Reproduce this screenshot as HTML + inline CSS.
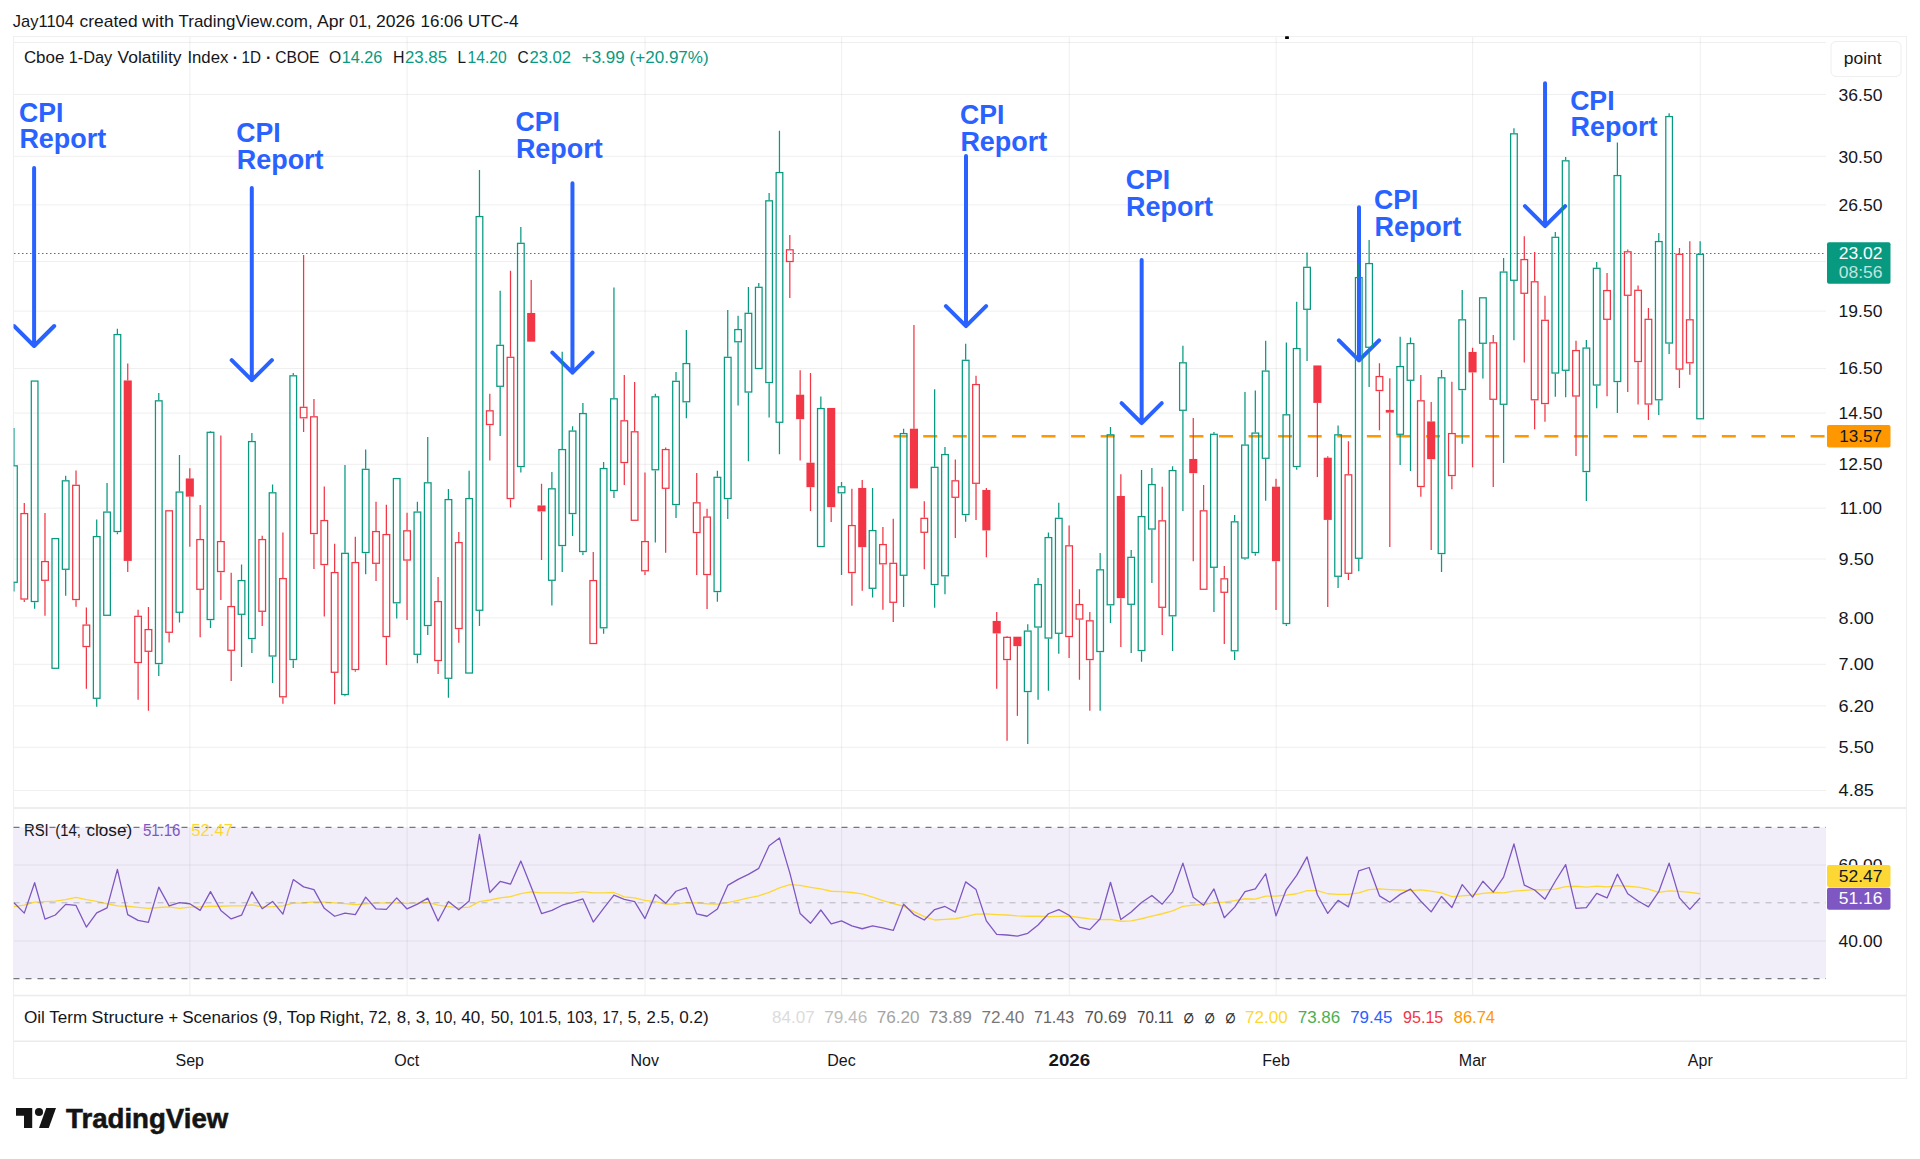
<!DOCTYPE html>
<html lang="en"><head><meta charset="utf-8"><title>Cboe 1-Day Volatility Index chart</title><style>html,body{margin:0;padding:0;background:#fff}body{width:1920px;height:1159px;overflow:hidden}</style></head><body>
<svg width="1920" height="1159" viewBox="0 0 1920 1159" font-family='"Liberation Sans", sans-serif' style="display:block">
<rect width="1920" height="1159" fill="#fff"/>
<text x="12.8" y="27" font-size="16.6" fill="#15161b" textLength="61.2" lengthAdjust="spacingAndGlyphs" >Jay1104</text>
<text x="79.5" y="27" font-size="16.6" fill="#15161b" textLength="58.1" lengthAdjust="spacingAndGlyphs" >created</text>
<text x="142" y="27" font-size="16.6" fill="#15161b" textLength="32" lengthAdjust="spacingAndGlyphs" >with</text>
<text x="178.5" y="27" font-size="16.6" fill="#15161b" textLength="134.1" lengthAdjust="spacingAndGlyphs" >TradingView.com,</text>
<text x="317" y="27" font-size="16.6" fill="#15161b" textLength="27.45" lengthAdjust="spacingAndGlyphs" >Apr</text>
<text x="349.3" y="27" font-size="16.6" fill="#15161b" textLength="22.2" lengthAdjust="spacingAndGlyphs" >01,</text>
<text x="376" y="27" font-size="16.6" fill="#15161b" textLength="39.1" lengthAdjust="spacingAndGlyphs" >2026</text>
<text x="420.55" y="27" font-size="16.6" fill="#15161b" textLength="42.45" lengthAdjust="spacingAndGlyphs" >16:06</text>
<text x="467.8" y="27" font-size="16.6" fill="#15161b" textLength="50.8" lengthAdjust="spacingAndGlyphs" >UTC-4</text>
<defs><clipPath id="cp"><rect x="13.5" y="36.5" width="1812.5" height="959"/></clipPath></defs>
<rect x="13.5" y="827.3" width="1812.5" height="151.3" fill="#7e57c2" fill-opacity="0.1"/>
<path d="M13.5 42.4H1826.0" stroke="#efefef" stroke-width="1"/>
<path d="M13.5 94.4H1826.0" stroke="#efefef" stroke-width="1"/>
<path d="M13.5 156.3H1826.0" stroke="#efefef" stroke-width="1"/>
<path d="M13.5 204.9H1826.0" stroke="#efefef" stroke-width="1"/>
<path d="M13.5 261.4H1826.0" stroke="#efefef" stroke-width="1"/>
<path d="M13.5 311.1H1826.0" stroke="#efefef" stroke-width="1"/>
<path d="M13.5 368.5H1826.0" stroke="#efefef" stroke-width="1"/>
<path d="M13.5 413.1H1826.0" stroke="#efefef" stroke-width="1"/>
<path d="M13.5 464.3H1826.0" stroke="#efefef" stroke-width="1"/>
<path d="M13.5 508.1H1826.0" stroke="#efefef" stroke-width="1"/>
<path d="M13.5 559.0H1826.0" stroke="#efefef" stroke-width="1"/>
<path d="M13.5 617.9H1826.0" stroke="#efefef" stroke-width="1"/>
<path d="M13.5 664.3H1826.0" stroke="#efefef" stroke-width="1"/>
<path d="M13.5 705.9H1826.0" stroke="#efefef" stroke-width="1"/>
<path d="M13.5 747.3H1826.0" stroke="#efefef" stroke-width="1"/>
<path d="M13.5 790.5H1826.0" stroke="#efefef" stroke-width="1"/>
<path d="M13.5 865H1826.0" stroke="#000" stroke-opacity="0.065" stroke-width="1"/>
<path d="M13.5 941H1826.0" stroke="#000" stroke-opacity="0.065" stroke-width="1"/>
<path d="M189.91 36.5V995.5" stroke="#000" stroke-opacity="0.065" stroke-width="1"/>
<path d="M407.15 36.5V995.5" stroke="#000" stroke-opacity="0.065" stroke-width="1"/>
<path d="M645.08 36.5V995.5" stroke="#000" stroke-opacity="0.065" stroke-width="1"/>
<path d="M841.63 36.5V995.5" stroke="#000" stroke-opacity="0.065" stroke-width="1"/>
<path d="M1069.22 36.5V995.5" stroke="#000" stroke-opacity="0.065" stroke-width="1"/>
<path d="M1276.11 36.5V995.5" stroke="#000" stroke-opacity="0.065" stroke-width="1"/>
<path d="M1472.66 36.5V995.5" stroke="#000" stroke-opacity="0.065" stroke-width="1"/>
<path d="M1700.25 36.5V995.5" stroke="#000" stroke-opacity="0.065" stroke-width="1"/>
<rect x="13.5" y="36.5" width="1893" height="1042" fill="none" stroke="#f0f0f0" stroke-width="1.2"/>
<path d="M13.5 808.0H1906.5" stroke="#eeeeee" stroke-width="1.8"/>
<path d="M13.5 995.5H1906.5" stroke="#ebebeb" stroke-width="1.4"/>
<path d="M13.5 1041.3H1906.5" stroke="#ebebeb" stroke-width="1.4"/>
<rect x="1285.1" y="36.3" width="3.8" height="2.6" rx="0.5" fill="#000"/>
<path d="M14 253.5H1826.0" stroke="#089981" stroke-width="1" stroke-dasharray="1.5 2.5"/>
<path d="M893.6 436.3H1826.0" stroke="#ff9800" stroke-width="2.5" stroke-dasharray="14 15.58"/>
<path d="M34.1 167.9V346M14 326L34.1 346L54.2 326" fill="none" stroke="#2962ff" stroke-width="4" stroke-linecap="round" stroke-linejoin="round" clip-path="url(#cp)"/>
<path d="M251.8 188.1V380.15M231.7 360.15L251.8 380.15L271.9 360.15" fill="none" stroke="#2962ff" stroke-width="4" stroke-linecap="round" stroke-linejoin="round" clip-path="url(#cp)"/>
<path d="M572.45 183.35V372.7M552.35 352.7L572.45 372.7L592.55 352.7" fill="none" stroke="#2962ff" stroke-width="4" stroke-linecap="round" stroke-linejoin="round" clip-path="url(#cp)"/>
<path d="M966 156.1V326.1M945.9 306.1L966 326.1L986.1 306.1" fill="none" stroke="#2962ff" stroke-width="4" stroke-linecap="round" stroke-linejoin="round" clip-path="url(#cp)"/>
<path d="M1141.67 260V423.1M1121.57 403.1L1141.67 423.1L1161.77 403.1" fill="none" stroke="#2962ff" stroke-width="4" stroke-linecap="round" stroke-linejoin="round" clip-path="url(#cp)"/>
<path d="M1359 207.3V360.4M1338.9 340.4L1359 360.4L1379.1 340.4" fill="none" stroke="#2962ff" stroke-width="4" stroke-linecap="round" stroke-linejoin="round" clip-path="url(#cp)"/>
<path d="M1545.05 83.35V226.1M1524.95 206.1L1545.05 226.1L1565.15 206.1" fill="none" stroke="#2962ff" stroke-width="4" stroke-linecap="round" stroke-linejoin="round" clip-path="url(#cp)"/>
<g clip-path="url(#cp)">
<path d="M13.95 428V465.2M13.95 582.9V591.6" stroke="#089981" stroke-width="1.25"/>
<rect x="10.62" y="465.82" width="6.65" height="116.45" fill="none" stroke="#089981" stroke-width="1.25"/>
<path d="M24.29 503V512.95M24.29 599.65V602.1" stroke="#f23645" stroke-width="1.25"/>
<rect x="20.97" y="513.58" width="6.65" height="85.45" fill="none" stroke="#f23645" stroke-width="1.25"/>
<path d="M34.64 602.15V608.85" stroke="#089981" stroke-width="1.25"/>
<rect x="31.31" y="381.07" width="6.65" height="220.45" fill="none" stroke="#089981" stroke-width="1.25"/>
<path d="M44.98 513V560.95M44.98 580.9V615.85" stroke="#f23645" stroke-width="1.25"/>
<rect x="41.66" y="561.58" width="6.65" height="18.7" fill="none" stroke="#f23645" stroke-width="1.25"/>
<rect x="52" y="538.58" width="6.65" height="129.7" fill="none" stroke="#089981" stroke-width="1.25"/>
<path d="M65.67 475.75V480.2M65.67 569.9V595.85" stroke="#089981" stroke-width="1.25"/>
<rect x="62.35" y="480.82" width="6.65" height="88.45" fill="none" stroke="#089981" stroke-width="1.25"/>
<path d="M76.02 470.5V484.7M76.02 600.15V606.85" stroke="#f23645" stroke-width="1.25"/>
<rect x="72.69" y="485.32" width="6.65" height="114.2" fill="none" stroke="#f23645" stroke-width="1.25"/>
<path d="M86.36 607.5V624.45M86.36 647.15V688.85" stroke="#f23645" stroke-width="1.25"/>
<rect x="83.04" y="625.08" width="6.65" height="21.45" fill="none" stroke="#f23645" stroke-width="1.25"/>
<path d="M96.71 519.5V535.95M96.71 698.9V706.85" stroke="#089981" stroke-width="1.25"/>
<rect x="93.38" y="536.58" width="6.65" height="161.7" fill="none" stroke="#089981" stroke-width="1.25"/>
<path d="M107.05 483V511.45" stroke="#089981" stroke-width="1.25"/>
<rect x="103.73" y="512.08" width="6.65" height="103.2" fill="none" stroke="#089981" stroke-width="1.25"/>
<path d="M117.4 328.75V333.95M117.4 532.15V534.35" stroke="#089981" stroke-width="1.25"/>
<rect x="114.07" y="334.57" width="6.65" height="196.95" fill="none" stroke="#089981" stroke-width="1.25"/>
<path d="M127.74 363.5V380.45M127.74 560.9V572.1" stroke="#f23645" stroke-width="1.25"/>
<rect x="123.69" y="380.45" width="8.1" height="180.45" fill="#f23645"/>
<path d="M138.09 609.75V615.7M138.09 663.15V699.85" stroke="#f23645" stroke-width="1.25"/>
<rect x="134.76" y="616.33" width="6.65" height="46.2" fill="none" stroke="#f23645" stroke-width="1.25"/>
<path d="M148.43 607V628.95M148.43 651.9V710.85" stroke="#f23645" stroke-width="1.25"/>
<rect x="145.11" y="629.58" width="6.65" height="21.7" fill="none" stroke="#f23645" stroke-width="1.25"/>
<path d="M158.78 393V400.2M158.78 664.15V676.1" stroke="#089981" stroke-width="1.25"/>
<rect x="155.45" y="400.82" width="6.65" height="262.7" fill="none" stroke="#089981" stroke-width="1.25"/>
<path d="M169.12 632.9V642.6" stroke="#f23645" stroke-width="1.25"/>
<rect x="165.8" y="510.82" width="6.65" height="121.45" fill="none" stroke="#f23645" stroke-width="1.25"/>
<path d="M179.47 455V491.45M179.47 612.9V622.6" stroke="#089981" stroke-width="1.25"/>
<rect x="176.14" y="492.07" width="6.65" height="120.2" fill="none" stroke="#089981" stroke-width="1.25"/>
<path d="M189.81 468.25V478.45M189.81 496.65V546.85" stroke="#f23645" stroke-width="1.25"/>
<rect x="185.76" y="478.45" width="8.1" height="18.2" fill="#f23645"/>
<path d="M200.16 505V538.95M200.16 589.9V637.35" stroke="#f23645" stroke-width="1.25"/>
<rect x="196.83" y="539.58" width="6.65" height="49.7" fill="none" stroke="#f23645" stroke-width="1.25"/>
<path d="M210.5 431V431.7M210.5 620.15V628.1" stroke="#089981" stroke-width="1.25"/>
<rect x="207.18" y="432.32" width="6.65" height="187.2" fill="none" stroke="#089981" stroke-width="1.25"/>
<path d="M220.85 435.5V540.95M220.85 572.15V600.1" stroke="#f23645" stroke-width="1.25"/>
<rect x="217.52" y="541.58" width="6.65" height="29.95" fill="none" stroke="#f23645" stroke-width="1.25"/>
<path d="M231.19 572.75V605.95M231.19 650.9V681.1" stroke="#f23645" stroke-width="1.25"/>
<rect x="227.87" y="606.58" width="6.65" height="43.7" fill="none" stroke="#f23645" stroke-width="1.25"/>
<path d="M241.54 564.5V579.95M241.54 614.9V667.1" stroke="#089981" stroke-width="1.25"/>
<rect x="238.21" y="580.58" width="6.65" height="33.7" fill="none" stroke="#089981" stroke-width="1.25"/>
<path d="M251.88 433V440.95M251.88 639.15V653.1" stroke="#089981" stroke-width="1.25"/>
<rect x="248.56" y="441.57" width="6.65" height="196.95" fill="none" stroke="#089981" stroke-width="1.25"/>
<path d="M262.22 535.75V538.95M262.22 611.9V626.1" stroke="#f23645" stroke-width="1.25"/>
<rect x="258.9" y="539.58" width="6.65" height="71.7" fill="none" stroke="#f23645" stroke-width="1.25"/>
<path d="M272.57 484.5V492.2M272.57 656.65V683.1" stroke="#089981" stroke-width="1.25"/>
<rect x="269.24" y="492.82" width="6.65" height="163.2" fill="none" stroke="#089981" stroke-width="1.25"/>
<path d="M282.91 532.5V577.95M282.91 697.4V703.85" stroke="#f23645" stroke-width="1.25"/>
<rect x="279.59" y="578.58" width="6.65" height="118.2" fill="none" stroke="#f23645" stroke-width="1.25"/>
<path d="M293.26 373V375.2M293.26 660.15V668.1" stroke="#089981" stroke-width="1.25"/>
<rect x="289.93" y="375.82" width="6.65" height="283.7" fill="none" stroke="#089981" stroke-width="1.25"/>
<path d="M303.6 255V406.7M303.6 418.4V432.1" stroke="#f23645" stroke-width="1.25"/>
<rect x="300.28" y="407.32" width="6.65" height="10.45" fill="none" stroke="#f23645" stroke-width="1.25"/>
<path d="M313.95 399V416.2M313.95 534.15V569.1" stroke="#f23645" stroke-width="1.25"/>
<rect x="310.62" y="416.82" width="6.65" height="116.7" fill="none" stroke="#f23645" stroke-width="1.25"/>
<path d="M324.29 486.5V519.95M324.29 565.15V616.6" stroke="#f23645" stroke-width="1.25"/>
<rect x="320.97" y="520.58" width="6.65" height="43.95" fill="none" stroke="#f23645" stroke-width="1.25"/>
<path d="M334.64 543.75V571.95M334.64 672.9V704.35" stroke="#f23645" stroke-width="1.25"/>
<rect x="331.31" y="572.58" width="6.65" height="99.7" fill="none" stroke="#f23645" stroke-width="1.25"/>
<path d="M344.98 465V552.7M344.98 695.15V696.35" stroke="#089981" stroke-width="1.25"/>
<rect x="341.66" y="553.33" width="6.65" height="141.2" fill="none" stroke="#089981" stroke-width="1.25"/>
<path d="M355.33 536.75V561.95M355.33 670.15V671.85" stroke="#f23645" stroke-width="1.25"/>
<rect x="352" y="562.58" width="6.65" height="106.95" fill="none" stroke="#f23645" stroke-width="1.25"/>
<path d="M365.67 449.5V468.7M365.67 553.15V574.35" stroke="#089981" stroke-width="1.25"/>
<rect x="362.35" y="469.32" width="6.65" height="83.2" fill="none" stroke="#089981" stroke-width="1.25"/>
<path d="M376.02 501.75V530.95M376.02 563.9V581.1" stroke="#f23645" stroke-width="1.25"/>
<rect x="372.69" y="531.58" width="6.65" height="31.7" fill="none" stroke="#f23645" stroke-width="1.25"/>
<path d="M386.36 504.75V533.95M386.36 637.15V665.1" stroke="#f23645" stroke-width="1.25"/>
<rect x="383.04" y="534.58" width="6.65" height="101.95" fill="none" stroke="#f23645" stroke-width="1.25"/>
<path d="M396.71 603.4V618.6" stroke="#089981" stroke-width="1.25"/>
<rect x="393.38" y="478.57" width="6.65" height="124.2" fill="none" stroke="#089981" stroke-width="1.25"/>
<path d="M407.05 512.75V530.2M407.05 560.65V620.1" stroke="#f23645" stroke-width="1.25"/>
<rect x="403.73" y="530.83" width="6.65" height="29.2" fill="none" stroke="#f23645" stroke-width="1.25"/>
<path d="M417.4 501.75V511.45M417.4 654.9V663.35" stroke="#089981" stroke-width="1.25"/>
<rect x="414.07" y="512.08" width="6.65" height="142.2" fill="none" stroke="#089981" stroke-width="1.25"/>
<path d="M427.74 437V482.2M427.74 626.15V635.1" stroke="#089981" stroke-width="1.25"/>
<rect x="424.42" y="482.82" width="6.65" height="142.7" fill="none" stroke="#089981" stroke-width="1.25"/>
<path d="M438.09 577V600.95M438.09 661.15V674.1" stroke="#f23645" stroke-width="1.25"/>
<rect x="434.76" y="601.58" width="6.65" height="58.95" fill="none" stroke="#f23645" stroke-width="1.25"/>
<path d="M448.43 489V498.95M448.43 678.9V697.85" stroke="#089981" stroke-width="1.25"/>
<rect x="445.11" y="499.57" width="6.65" height="178.7" fill="none" stroke="#089981" stroke-width="1.25"/>
<path d="M458.78 532V541.95M458.78 629.15V642.85" stroke="#f23645" stroke-width="1.25"/>
<rect x="455.45" y="542.58" width="6.65" height="85.95" fill="none" stroke="#f23645" stroke-width="1.25"/>
<path d="M469.12 470.75V497.95" stroke="#089981" stroke-width="1.25"/>
<rect x="465.8" y="498.57" width="6.65" height="174.45" fill="none" stroke="#089981" stroke-width="1.25"/>
<path d="M479.47 170V215.95M479.47 610.9V626.1" stroke="#089981" stroke-width="1.25"/>
<rect x="476.14" y="216.57" width="6.65" height="393.7" fill="none" stroke="#089981" stroke-width="1.25"/>
<path d="M489.81 393.75V410.2M489.81 425.15V460.6" stroke="#f23645" stroke-width="1.25"/>
<rect x="486.49" y="410.82" width="6.65" height="13.7" fill="none" stroke="#f23645" stroke-width="1.25"/>
<path d="M500.15 290.75V344.7M500.15 386.9V436.1" stroke="#089981" stroke-width="1.25"/>
<rect x="496.83" y="345.32" width="6.65" height="40.95" fill="none" stroke="#089981" stroke-width="1.25"/>
<path d="M510.5 270.75V356.7M510.5 499.15V507.6" stroke="#f23645" stroke-width="1.25"/>
<rect x="507.17" y="357.32" width="6.65" height="141.2" fill="none" stroke="#f23645" stroke-width="1.25"/>
<path d="M520.84 227V242.7M520.84 467.15V472.6" stroke="#089981" stroke-width="1.25"/>
<rect x="517.52" y="243.32" width="6.65" height="223.2" fill="none" stroke="#089981" stroke-width="1.25"/>
<path d="M531.19 280V312.95" stroke="#f23645" stroke-width="1.25"/>
<rect x="527.14" y="312.95" width="8.1" height="28.7" fill="#f23645"/>
<path d="M541.53 483.75V505.45M541.53 511.4V560.1" stroke="#f23645" stroke-width="1.25"/>
<rect x="537.48" y="505.45" width="8.1" height="5.95" fill="#f23645"/>
<path d="M551.88 472V488.2M551.88 580.9V605.6" stroke="#089981" stroke-width="1.25"/>
<rect x="548.55" y="488.82" width="6.65" height="91.45" fill="none" stroke="#089981" stroke-width="1.25"/>
<path d="M562.22 351.75V448.95M562.22 546.15V572.1" stroke="#089981" stroke-width="1.25"/>
<rect x="558.9" y="449.57" width="6.65" height="95.95" fill="none" stroke="#089981" stroke-width="1.25"/>
<path d="M572.57 426.25V430.45M572.57 514.15V536.1" stroke="#089981" stroke-width="1.25"/>
<rect x="569.24" y="431.07" width="6.65" height="82.45" fill="none" stroke="#089981" stroke-width="1.25"/>
<path d="M582.91 403V412.95M582.91 552.15V555.1" stroke="#089981" stroke-width="1.25"/>
<rect x="579.59" y="413.57" width="6.65" height="137.95" fill="none" stroke="#089981" stroke-width="1.25"/>
<path d="M593.26 552V579.95" stroke="#f23645" stroke-width="1.25"/>
<rect x="589.93" y="580.58" width="6.65" height="62.95" fill="none" stroke="#f23645" stroke-width="1.25"/>
<path d="M603.6 462V467.95M603.6 628.4V633.85" stroke="#089981" stroke-width="1.25"/>
<rect x="600.28" y="468.57" width="6.65" height="159.2" fill="none" stroke="#089981" stroke-width="1.25"/>
<path d="M613.95 287.5V398.2M613.95 491.15V498.1" stroke="#089981" stroke-width="1.25"/>
<rect x="610.62" y="398.82" width="6.65" height="91.7" fill="none" stroke="#089981" stroke-width="1.25"/>
<path d="M624.29 375V420.2M624.29 463.15V485.1" stroke="#f23645" stroke-width="1.25"/>
<rect x="620.97" y="420.82" width="6.65" height="41.7" fill="none" stroke="#f23645" stroke-width="1.25"/>
<path d="M634.64 382V431.2" stroke="#f23645" stroke-width="1.25"/>
<rect x="631.31" y="431.82" width="6.65" height="88.45" fill="none" stroke="#f23645" stroke-width="1.25"/>
<path d="M644.98 472.5V540.95M644.98 571.4V575.1" stroke="#f23645" stroke-width="1.25"/>
<rect x="641.66" y="541.58" width="6.65" height="29.2" fill="none" stroke="#f23645" stroke-width="1.25"/>
<path d="M655.33 393.75V396.2M655.33 470.4V542.6" stroke="#089981" stroke-width="1.25"/>
<rect x="652" y="396.82" width="6.65" height="72.95" fill="none" stroke="#089981" stroke-width="1.25"/>
<path d="M665.67 447.5V448.95M665.67 488.9V552.85" stroke="#f23645" stroke-width="1.25"/>
<rect x="662.35" y="449.57" width="6.65" height="38.7" fill="none" stroke="#f23645" stroke-width="1.25"/>
<path d="M676.02 372V380.7M676.02 505.15V518.1" stroke="#089981" stroke-width="1.25"/>
<rect x="672.69" y="381.32" width="6.65" height="123.2" fill="none" stroke="#089981" stroke-width="1.25"/>
<path d="M686.36 330V362.95M686.36 402.4V418.35" stroke="#089981" stroke-width="1.25"/>
<rect x="683.04" y="363.57" width="6.65" height="38.2" fill="none" stroke="#089981" stroke-width="1.25"/>
<path d="M696.71 473V502.2M696.71 533.15V575.1" stroke="#f23645" stroke-width="1.25"/>
<rect x="693.38" y="502.82" width="6.65" height="29.7" fill="none" stroke="#f23645" stroke-width="1.25"/>
<path d="M707.05 508.75V516.45M707.05 575.15V609.1" stroke="#f23645" stroke-width="1.25"/>
<rect x="703.73" y="517.08" width="6.65" height="57.45" fill="none" stroke="#f23645" stroke-width="1.25"/>
<path d="M717.4 470.75V476.7M717.4 592.15V601.85" stroke="#089981" stroke-width="1.25"/>
<rect x="714.07" y="477.32" width="6.65" height="114.2" fill="none" stroke="#089981" stroke-width="1.25"/>
<path d="M727.74 310V356.7M727.74 499.15V519.1" stroke="#089981" stroke-width="1.25"/>
<rect x="724.42" y="357.32" width="6.65" height="141.2" fill="none" stroke="#089981" stroke-width="1.25"/>
<path d="M738.08 315.75V328.95M738.08 342.4V405.6" stroke="#089981" stroke-width="1.25"/>
<rect x="734.76" y="329.57" width="6.65" height="12.2" fill="none" stroke="#089981" stroke-width="1.25"/>
<path d="M748.43 287V312.7M748.43 392.65V461.35" stroke="#089981" stroke-width="1.25"/>
<rect x="745.1" y="313.32" width="6.65" height="78.7" fill="none" stroke="#089981" stroke-width="1.25"/>
<path d="M758.77 283V286.7" stroke="#089981" stroke-width="1.25"/>
<rect x="755.45" y="287.32" width="6.65" height="81.2" fill="none" stroke="#089981" stroke-width="1.25"/>
<path d="M769.12 193V200.2M769.12 383.15V417.6" stroke="#089981" stroke-width="1.25"/>
<rect x="765.79" y="200.82" width="6.65" height="181.7" fill="none" stroke="#089981" stroke-width="1.25"/>
<path d="M779.46 130.75V171.95M779.46 422.9V454.35" stroke="#089981" stroke-width="1.25"/>
<rect x="776.14" y="172.57" width="6.65" height="249.7" fill="none" stroke="#089981" stroke-width="1.25"/>
<path d="M789.81 235V249.2M789.81 262.15V298.1" stroke="#f23645" stroke-width="1.25"/>
<rect x="786.48" y="249.82" width="6.65" height="11.7" fill="none" stroke="#f23645" stroke-width="1.25"/>
<path d="M800.15 370.25V394.7M800.15 419.15V460.6" stroke="#f23645" stroke-width="1.25"/>
<rect x="796.1" y="394.7" width="8.1" height="24.45" fill="#f23645"/>
<path d="M810.5 373V462.7M810.5 487.15V511.1" stroke="#f23645" stroke-width="1.25"/>
<rect x="806.45" y="462.7" width="8.1" height="24.45" fill="#f23645"/>
<path d="M820.84 396.5V407.95" stroke="#089981" stroke-width="1.25"/>
<rect x="817.52" y="408.57" width="6.65" height="137.95" fill="none" stroke="#089981" stroke-width="1.25"/>
<path d="M831.19 507.15V522.1" stroke="#f23645" stroke-width="1.25"/>
<rect x="827.14" y="407.95" width="8.1" height="99.2" fill="#f23645"/>
<path d="M841.53 482V486.2M841.53 493.4V575.1" stroke="#089981" stroke-width="1.25"/>
<rect x="838.21" y="486.82" width="6.65" height="5.95" fill="none" stroke="#089981" stroke-width="1.25"/>
<path d="M851.88 488.75V524.95M851.88 573.15V605.85" stroke="#f23645" stroke-width="1.25"/>
<rect x="848.55" y="525.58" width="6.65" height="46.95" fill="none" stroke="#f23645" stroke-width="1.25"/>
<path d="M862.22 480V487.95M862.22 547.15V590.85" stroke="#f23645" stroke-width="1.25"/>
<rect x="858.17" y="487.95" width="8.1" height="59.2" fill="#f23645"/>
<path d="M872.57 488V529.95M872.57 588.9V597.6" stroke="#089981" stroke-width="1.25"/>
<rect x="869.24" y="530.58" width="6.65" height="57.7" fill="none" stroke="#089981" stroke-width="1.25"/>
<path d="M882.91 527V543.95M882.91 564.4V609.85" stroke="#f23645" stroke-width="1.25"/>
<rect x="879.59" y="544.58" width="6.65" height="19.2" fill="none" stroke="#f23645" stroke-width="1.25"/>
<path d="M893.26 518.75V562.7M893.26 602.9V622.1" stroke="#f23645" stroke-width="1.25"/>
<rect x="889.93" y="563.33" width="6.65" height="38.95" fill="none" stroke="#f23645" stroke-width="1.25"/>
<path d="M903.6 428.75V432.95M903.6 575.9V607.1" stroke="#089981" stroke-width="1.25"/>
<rect x="900.28" y="433.57" width="6.65" height="141.7" fill="none" stroke="#089981" stroke-width="1.25"/>
<path d="M913.95 325V428.7" stroke="#f23645" stroke-width="1.25"/>
<rect x="909.9" y="428.7" width="8.1" height="59.7" fill="#f23645"/>
<path d="M924.29 501.25V517.7M924.29 532.9V569.35" stroke="#f23645" stroke-width="1.25"/>
<rect x="920.97" y="518.33" width="6.65" height="13.95" fill="none" stroke="#f23645" stroke-width="1.25"/>
<path d="M934.64 389.25V466.7M934.64 585.15V607.85" stroke="#089981" stroke-width="1.25"/>
<rect x="931.31" y="467.32" width="6.65" height="117.2" fill="none" stroke="#089981" stroke-width="1.25"/>
<path d="M944.98 447V453.95M944.98 576.4V594.35" stroke="#089981" stroke-width="1.25"/>
<rect x="941.66" y="454.57" width="6.65" height="121.2" fill="none" stroke="#089981" stroke-width="1.25"/>
<path d="M955.33 459.5V480.2M955.33 497.9V538.1" stroke="#f23645" stroke-width="1.25"/>
<rect x="952" y="480.82" width="6.65" height="16.45" fill="none" stroke="#f23645" stroke-width="1.25"/>
<path d="M965.67 343.75V359.7M965.67 515.15V521.85" stroke="#089981" stroke-width="1.25"/>
<rect x="962.35" y="360.32" width="6.65" height="154.2" fill="none" stroke="#089981" stroke-width="1.25"/>
<path d="M976.02 375.75V383.95M976.02 483.9V520.1" stroke="#f23645" stroke-width="1.25"/>
<rect x="972.69" y="384.57" width="6.65" height="98.7" fill="none" stroke="#f23645" stroke-width="1.25"/>
<path d="M986.36 488V489.95M986.36 530.4V557.35" stroke="#f23645" stroke-width="1.25"/>
<rect x="982.31" y="489.95" width="8.1" height="40.45" fill="#f23645"/>
<path d="M996.7 612V620.95M996.7 633.4V688.85" stroke="#f23645" stroke-width="1.25"/>
<rect x="992.65" y="620.95" width="8.1" height="12.45" fill="#f23645"/>
<path d="M1007.05 636V636.7M1007.05 660.15V740.85" stroke="#f23645" stroke-width="1.25"/>
<rect x="1003.72" y="637.33" width="6.65" height="22.2" fill="none" stroke="#f23645" stroke-width="1.25"/>
<path d="M1017.39 646.15V715.85" stroke="#f23645" stroke-width="1.25"/>
<rect x="1013.34" y="636.7" width="8.1" height="9.45" fill="#f23645"/>
<path d="M1027.74 624.25V630.45M1027.74 692.15V744.1" stroke="#089981" stroke-width="1.25"/>
<rect x="1024.41" y="631.08" width="6.65" height="60.45" fill="none" stroke="#089981" stroke-width="1.25"/>
<path d="M1038.08 578V583.95M1038.08 627.65V699.85" stroke="#089981" stroke-width="1.25"/>
<rect x="1034.76" y="584.58" width="6.65" height="42.45" fill="none" stroke="#089981" stroke-width="1.25"/>
<path d="M1048.43 532.5V536.95M1048.43 638.65V690.85" stroke="#089981" stroke-width="1.25"/>
<rect x="1045.1" y="537.58" width="6.65" height="100.45" fill="none" stroke="#089981" stroke-width="1.25"/>
<path d="M1058.77 502.75V517.7M1058.77 633.9V653.85" stroke="#089981" stroke-width="1.25"/>
<rect x="1055.45" y="518.33" width="6.65" height="114.95" fill="none" stroke="#089981" stroke-width="1.25"/>
<path d="M1069.12 525.5V545.2M1069.12 637.15V658.1" stroke="#f23645" stroke-width="1.25"/>
<rect x="1065.79" y="545.83" width="6.65" height="90.7" fill="none" stroke="#f23645" stroke-width="1.25"/>
<path d="M1079.46 589.25V603.95M1079.46 619.65V679.85" stroke="#f23645" stroke-width="1.25"/>
<rect x="1076.14" y="604.58" width="6.65" height="14.45" fill="none" stroke="#f23645" stroke-width="1.25"/>
<path d="M1089.81 612V620.2M1089.81 660.15V710.85" stroke="#f23645" stroke-width="1.25"/>
<rect x="1086.48" y="620.83" width="6.65" height="38.7" fill="none" stroke="#f23645" stroke-width="1.25"/>
<path d="M1100.15 553V569.2M1100.15 652.15V710.85" stroke="#089981" stroke-width="1.25"/>
<rect x="1096.83" y="569.83" width="6.65" height="81.7" fill="none" stroke="#089981" stroke-width="1.25"/>
<path d="M1110.5 427V434.2M1110.5 605.4V623.1" stroke="#089981" stroke-width="1.25"/>
<rect x="1107.17" y="434.82" width="6.65" height="169.95" fill="none" stroke="#089981" stroke-width="1.25"/>
<path d="M1120.84 474.25V495.95M1120.84 598.15V647.1" stroke="#f23645" stroke-width="1.25"/>
<rect x="1116.79" y="495.95" width="8.1" height="102.2" fill="#f23645"/>
<path d="M1131.19 550V556.7M1131.19 604.9V653.1" stroke="#089981" stroke-width="1.25"/>
<rect x="1127.86" y="557.33" width="6.65" height="46.95" fill="none" stroke="#089981" stroke-width="1.25"/>
<path d="M1141.53 470V515.95M1141.53 651.15V661.85" stroke="#089981" stroke-width="1.25"/>
<rect x="1138.21" y="516.58" width="6.65" height="133.95" fill="none" stroke="#089981" stroke-width="1.25"/>
<path d="M1151.88 468V483.95M1151.88 529.65V583.1" stroke="#089981" stroke-width="1.25"/>
<rect x="1148.55" y="484.57" width="6.65" height="44.45" fill="none" stroke="#089981" stroke-width="1.25"/>
<path d="M1162.22 486.75V520.2M1162.22 607.9V635.1" stroke="#f23645" stroke-width="1.25"/>
<rect x="1158.9" y="520.83" width="6.65" height="86.45" fill="none" stroke="#f23645" stroke-width="1.25"/>
<path d="M1172.57 466.25V469.95M1172.57 616.4V651.1" stroke="#089981" stroke-width="1.25"/>
<rect x="1169.24" y="470.57" width="6.65" height="145.2" fill="none" stroke="#089981" stroke-width="1.25"/>
<path d="M1182.91 345.75V362.2M1182.91 410.9V511.1" stroke="#089981" stroke-width="1.25"/>
<rect x="1179.59" y="362.82" width="6.65" height="47.45" fill="none" stroke="#089981" stroke-width="1.25"/>
<path d="M1193.26 418V458.95M1193.26 473.15V561.35" stroke="#f23645" stroke-width="1.25"/>
<rect x="1189.21" y="458.95" width="8.1" height="14.2" fill="#f23645"/>
<path d="M1203.6 485V510.2" stroke="#f23645" stroke-width="1.25"/>
<rect x="1200.28" y="510.82" width="6.65" height="78.45" fill="none" stroke="#f23645" stroke-width="1.25"/>
<path d="M1213.95 432V433.7M1213.95 567.9V612.1" stroke="#089981" stroke-width="1.25"/>
<rect x="1210.62" y="434.32" width="6.65" height="132.95" fill="none" stroke="#089981" stroke-width="1.25"/>
<path d="M1224.29 566V578.2M1224.29 592.9V644.1" stroke="#f23645" stroke-width="1.25"/>
<rect x="1220.96" y="578.83" width="6.65" height="13.45" fill="none" stroke="#f23645" stroke-width="1.25"/>
<path d="M1234.63 515V521.2M1234.63 651.4V660.1" stroke="#089981" stroke-width="1.25"/>
<rect x="1231.31" y="521.83" width="6.65" height="128.95" fill="none" stroke="#089981" stroke-width="1.25"/>
<path d="M1244.98 392V444.45M1244.98 558.65V559.85" stroke="#089981" stroke-width="1.25"/>
<rect x="1241.65" y="445.07" width="6.65" height="112.95" fill="none" stroke="#089981" stroke-width="1.25"/>
<path d="M1255.32 390.5V432.45M1255.32 553.15V555.85" stroke="#089981" stroke-width="1.25"/>
<rect x="1252" y="433.07" width="6.65" height="119.45" fill="none" stroke="#089981" stroke-width="1.25"/>
<path d="M1265.67 340.75V370.45M1265.67 458.9V500.85" stroke="#089981" stroke-width="1.25"/>
<rect x="1262.34" y="371.07" width="6.65" height="87.2" fill="none" stroke="#089981" stroke-width="1.25"/>
<path d="M1276.01 478.75V486.7M1276.01 561.15V610.1" stroke="#f23645" stroke-width="1.25"/>
<rect x="1271.96" y="486.7" width="8.1" height="74.45" fill="#f23645"/>
<path d="M1286.36 342.5V414.2M1286.36 624.15V626.1" stroke="#089981" stroke-width="1.25"/>
<rect x="1283.03" y="414.82" width="6.65" height="208.7" fill="none" stroke="#089981" stroke-width="1.25"/>
<path d="M1296.7 301.75V347.95M1296.7 467.15V469.85" stroke="#089981" stroke-width="1.25"/>
<rect x="1293.38" y="348.57" width="6.65" height="117.95" fill="none" stroke="#089981" stroke-width="1.25"/>
<path d="M1307.05 252.5V266.7M1307.05 309.9V361.1" stroke="#089981" stroke-width="1.25"/>
<rect x="1303.72" y="267.32" width="6.65" height="41.95" fill="none" stroke="#089981" stroke-width="1.25"/>
<path d="M1317.39 402.9V477.1" stroke="#f23645" stroke-width="1.25"/>
<rect x="1313.34" y="365.45" width="8.1" height="37.45" fill="#f23645"/>
<path d="M1327.74 456.25V457.7M1327.74 519.9V607.1" stroke="#f23645" stroke-width="1.25"/>
<rect x="1323.69" y="457.7" width="8.1" height="62.2" fill="#f23645"/>
<path d="M1338.08 425.5V434.2M1338.08 576.9V588.1" stroke="#089981" stroke-width="1.25"/>
<rect x="1334.76" y="434.82" width="6.65" height="141.45" fill="none" stroke="#089981" stroke-width="1.25"/>
<path d="M1348.43 441.25V474.2M1348.43 573.9V580.1" stroke="#f23645" stroke-width="1.25"/>
<rect x="1345.1" y="474.82" width="6.65" height="98.45" fill="none" stroke="#f23645" stroke-width="1.25"/>
<path d="M1358.77 263.75V276.95M1358.77 558.9V571.35" stroke="#089981" stroke-width="1.25"/>
<rect x="1355.45" y="277.57" width="6.65" height="280.7" fill="none" stroke="#089981" stroke-width="1.25"/>
<path d="M1369.12 240V262.95M1369.12 347.9V387.1" stroke="#089981" stroke-width="1.25"/>
<rect x="1365.79" y="263.57" width="6.65" height="83.7" fill="none" stroke="#089981" stroke-width="1.25"/>
<path d="M1379.46 363.25V375.95M1379.46 391.15V430.35" stroke="#f23645" stroke-width="1.25"/>
<rect x="1376.14" y="376.57" width="6.65" height="13.95" fill="none" stroke="#f23645" stroke-width="1.25"/>
<path d="M1389.81 378.25V409.95M1389.81 412.65V547.1" stroke="#f23645" stroke-width="1.25"/>
<rect x="1385.76" y="409.95" width="8.1" height="2.7" fill="#f23645"/>
<path d="M1400.15 336.75V365.95M1400.15 434.9V465.1" stroke="#089981" stroke-width="1.25"/>
<rect x="1396.83" y="366.57" width="6.65" height="67.7" fill="none" stroke="#089981" stroke-width="1.25"/>
<path d="M1410.5 337.5V342.95M1410.5 380.9V471.1" stroke="#089981" stroke-width="1.25"/>
<rect x="1407.17" y="343.57" width="6.65" height="36.7" fill="none" stroke="#089981" stroke-width="1.25"/>
<path d="M1420.84 375V400.2M1420.84 487.15V496.85" stroke="#f23645" stroke-width="1.25"/>
<rect x="1417.52" y="400.82" width="6.65" height="85.7" fill="none" stroke="#f23645" stroke-width="1.25"/>
<path d="M1431.19 402V421.45M1431.19 459.15V550.1" stroke="#f23645" stroke-width="1.25"/>
<rect x="1427.14" y="421.45" width="8.1" height="37.7" fill="#f23645"/>
<path d="M1441.53 370V377.2M1441.53 554.15V572.1" stroke="#089981" stroke-width="1.25"/>
<rect x="1438.21" y="377.82" width="6.65" height="175.7" fill="none" stroke="#089981" stroke-width="1.25"/>
<path d="M1451.88 381.75V432.95M1451.88 476.15V489.35" stroke="#f23645" stroke-width="1.25"/>
<rect x="1448.55" y="433.57" width="6.65" height="41.95" fill="none" stroke="#f23645" stroke-width="1.25"/>
<path d="M1462.22 290V319.2M1462.22 390.15V443.85" stroke="#089981" stroke-width="1.25"/>
<rect x="1458.89" y="319.82" width="6.65" height="69.7" fill="none" stroke="#089981" stroke-width="1.25"/>
<path d="M1472.56 347.75V351.95M1472.56 372.4V467.35" stroke="#f23645" stroke-width="1.25"/>
<rect x="1468.51" y="351.95" width="8.1" height="20.45" fill="#f23645"/>
<path d="M1482.91 343.9V378.6" stroke="#089981" stroke-width="1.25"/>
<rect x="1479.58" y="297.82" width="6.65" height="45.45" fill="none" stroke="#089981" stroke-width="1.25"/>
<path d="M1493.25 335V342.2M1493.25 399.9V487.1" stroke="#f23645" stroke-width="1.25"/>
<rect x="1489.93" y="342.82" width="6.65" height="56.45" fill="none" stroke="#f23645" stroke-width="1.25"/>
<path d="M1503.6 258V271.45M1503.6 404.9V463.1" stroke="#089981" stroke-width="1.25"/>
<rect x="1500.27" y="272.07" width="6.65" height="132.2" fill="none" stroke="#089981" stroke-width="1.25"/>
<path d="M1513.94 128.25V133.2M1513.94 280.9V340.35" stroke="#089981" stroke-width="1.25"/>
<rect x="1510.62" y="133.82" width="6.65" height="146.45" fill="none" stroke="#089981" stroke-width="1.25"/>
<path d="M1524.29 236.25V258.95M1524.29 293.9V362.6" stroke="#f23645" stroke-width="1.25"/>
<rect x="1520.96" y="259.57" width="6.65" height="33.7" fill="none" stroke="#f23645" stroke-width="1.25"/>
<path d="M1534.63 252V281.2M1534.63 400.4V429.35" stroke="#f23645" stroke-width="1.25"/>
<rect x="1531.31" y="281.82" width="6.65" height="117.95" fill="none" stroke="#f23645" stroke-width="1.25"/>
<path d="M1544.98 295.75V319.7M1544.98 404.15V421.85" stroke="#f23645" stroke-width="1.25"/>
<rect x="1541.65" y="320.32" width="6.65" height="83.2" fill="none" stroke="#f23645" stroke-width="1.25"/>
<path d="M1555.32 232V236.7M1555.32 373.65V396.85" stroke="#089981" stroke-width="1.25"/>
<rect x="1552" y="237.32" width="6.65" height="135.7" fill="none" stroke="#089981" stroke-width="1.25"/>
<path d="M1565.67 157V160.2M1565.67 370.9V397.35" stroke="#089981" stroke-width="1.25"/>
<rect x="1562.34" y="160.82" width="6.65" height="209.45" fill="none" stroke="#089981" stroke-width="1.25"/>
<path d="M1576.01 340.75V349.95M1576.01 396.65V456.1" stroke="#f23645" stroke-width="1.25"/>
<rect x="1572.69" y="350.57" width="6.65" height="45.45" fill="none" stroke="#f23645" stroke-width="1.25"/>
<path d="M1586.36 340V347.45M1586.36 472.15V501.1" stroke="#089981" stroke-width="1.25"/>
<rect x="1583.03" y="348.07" width="6.65" height="123.45" fill="none" stroke="#089981" stroke-width="1.25"/>
<path d="M1596.7 262V267.7M1596.7 385.65V408.35" stroke="#089981" stroke-width="1.25"/>
<rect x="1593.38" y="268.32" width="6.65" height="116.7" fill="none" stroke="#089981" stroke-width="1.25"/>
<path d="M1607.05 273V289.95M1607.05 319.9V396.35" stroke="#f23645" stroke-width="1.25"/>
<rect x="1603.72" y="290.57" width="6.65" height="28.7" fill="none" stroke="#f23645" stroke-width="1.25"/>
<path d="M1617.39 142.5V174.95M1617.39 382.15V413.1" stroke="#089981" stroke-width="1.25"/>
<rect x="1614.07" y="175.57" width="6.65" height="205.95" fill="none" stroke="#089981" stroke-width="1.25"/>
<path d="M1627.74 249.5V251.2M1627.74 295.9V392.1" stroke="#f23645" stroke-width="1.25"/>
<rect x="1624.41" y="251.82" width="6.65" height="43.45" fill="none" stroke="#f23645" stroke-width="1.25"/>
<path d="M1638.08 285.5V289.7M1638.08 362.15V404.6" stroke="#f23645" stroke-width="1.25"/>
<rect x="1634.76" y="290.32" width="6.65" height="71.2" fill="none" stroke="#f23645" stroke-width="1.25"/>
<path d="M1648.43 308V318.7M1648.43 404.65V420.1" stroke="#f23645" stroke-width="1.25"/>
<rect x="1645.1" y="319.32" width="6.65" height="84.7" fill="none" stroke="#f23645" stroke-width="1.25"/>
<path d="M1658.77 233V240.95M1658.77 400.4V415.1" stroke="#089981" stroke-width="1.25"/>
<rect x="1655.45" y="241.57" width="6.65" height="158.2" fill="none" stroke="#089981" stroke-width="1.25"/>
<path d="M1669.12 113.25V115.95M1669.12 343.65V354.1" stroke="#089981" stroke-width="1.25"/>
<rect x="1665.79" y="116.58" width="6.65" height="226.45" fill="none" stroke="#089981" stroke-width="1.25"/>
<path d="M1679.46 248V253.7M1679.46 369.65V388.1" stroke="#f23645" stroke-width="1.25"/>
<rect x="1676.14" y="254.32" width="6.65" height="114.7" fill="none" stroke="#f23645" stroke-width="1.25"/>
<path d="M1689.81 241.25V319.2M1689.81 363.4V374.85" stroke="#f23645" stroke-width="1.25"/>
<rect x="1686.48" y="319.82" width="6.65" height="42.95" fill="none" stroke="#f23645" stroke-width="1.25"/>
<path d="M1700.15 241.25V253.7" stroke="#089981" stroke-width="1.25"/>
<rect x="1696.83" y="254.32" width="6.65" height="164.45" fill="none" stroke="#089981" stroke-width="1.25"/>
</g>
<polyline points="13.95,906.67 24.29,905.21 34.64,902.08 44.98,901.67 55.33,901.04 65.67,899.58 76.02,897.29 86.36,899.58 96.71,901.46 107.05,903.75 117.4,905.83 127.74,906.25 138.09,907.29 148.43,908.33 158.78,907.5 169.12,906.88 179.47,908.33 189.81,907.08 200.16,906.88 210.5,906.25 220.85,906.25 231.19,905.83 241.54,905.83 251.88,904.79 262.22,906.88 272.57,906.67 282.91,905.83 293.26,903.12 303.6,902.92 313.95,901.88 324.29,902.08 334.64,902.92 344.98,903.54 355.33,904.58 365.67,903.75 376.02,903.12 386.36,902.92 396.71,902.92 407.05,903.33 417.4,903.12 427.74,902.29 438.09,905.21 448.43,906.67 458.78,907.92 469.12,907.08 479.47,901.67 489.81,900 500.15,897.92 510.5,896.67 520.84,893.54 531.19,891.88 541.53,892.92 551.88,892.92 562.22,892.92 572.57,893.12 582.91,891.67 593.26,892.92 603.6,892.92 613.95,892.5 624.29,896.88 634.64,897.92 644.98,900.42 655.33,901.67 665.67,904.17 676.02,904.17 686.36,902.71 696.71,902.92 707.05,903.75 717.4,904.17 727.74,902.71 738.08,900.42 748.43,897.92 758.77,895.83 769.12,892.29 779.46,887.92 789.81,884.58 800.15,885.42 810.5,887.29 820.84,888.96 831.19,891.25 841.53,891.67 851.88,892.5 862.22,893.96 872.57,897.08 882.91,900.62 893.26,903.54 903.6,906.25 913.95,911.67 924.29,916.67 934.64,920 944.98,919.38 955.33,918.75 965.67,916.67 976.02,914.17 986.36,913.96 996.7,914.58 1007.05,915 1017.39,915.83 1027.74,916.25 1038.08,916.04 1048.43,916.67 1058.77,916.46 1069.12,916.04 1079.46,917.5 1089.81,918.96 1100.15,919.58 1110.5,919.38 1120.84,921.25 1131.19,920.83 1141.53,918.75 1151.88,916.04 1162.22,913.75 1172.57,910.83 1182.91,906.46 1193.26,905.21 1203.6,904.58 1213.95,902.71 1224.29,902.08 1234.63,900.62 1244.98,898.75 1255.32,899.17 1265.67,896.04 1276.01,896.04 1286.36,895.21 1296.7,893.75 1307.05,890.62 1317.39,890.62 1327.74,893.75 1338.08,894.38 1348.43,894.38 1358.77,892.92 1369.12,889.58 1379.46,888.96 1389.81,889.58 1400.15,890 1410.5,890.62 1420.84,889.79 1431.19,891.04 1441.53,892.92 1451.88,896.67 1462.22,895.83 1472.56,895 1482.91,893.33 1493.25,892.5 1503.6,892.92 1513.94,891.04 1524.29,890.42 1534.63,889.58 1544.98,889.79 1555.32,889.17 1565.67,886.67 1576.01,886.25 1586.36,887.08 1596.7,886.04 1607.05,886.88 1617.39,885.62 1627.74,886.25 1638.08,887.08 1648.43,889.17 1658.77,892.29 1669.12,890.83 1679.46,891.46 1689.81,892.29 1700.15,893.75" fill="none" stroke="#fdd835" stroke-width="1.3" stroke-linejoin="round" clip-path="url(#cp)"/>
<polyline points="13.95,902.71 24.29,913.12 34.64,882.71 44.98,919.17 55.33,915 65.67,904.38 76.02,905.42 86.36,927.08 96.71,912.92 107.05,907.92 117.4,869.38 127.74,914.58 138.09,920.42 148.43,922.29 158.78,887.08 169.12,905.83 179.47,902.71 189.81,903.75 200.16,910.42 210.5,891.67 220.85,910.42 231.19,918.96 241.54,915.21 251.88,891.67 262.22,908.75 272.57,901.46 282.91,914.17 293.26,879.58 303.6,886.88 313.95,889.58 324.29,908.33 334.64,916.25 344.98,913.12 355.33,914.58 365.67,897.08 376.02,908.96 386.36,909.38 396.71,897.92 407.05,908.96 417.4,904.17 427.74,898.12 438.09,921.04 448.43,901.46 458.78,909.79 469.12,901.04 479.47,834.38 489.81,892.5 500.15,881.46 510.5,884.17 520.84,861.04 531.19,887.08 541.53,913.54 551.88,910.42 562.22,905.21 572.57,902.08 582.91,898.96 593.26,922.08 603.6,908.33 613.95,895.21 624.29,899.38 634.64,901.67 644.98,918.54 655.33,894.58 665.67,903.33 676.02,891.25 686.36,887.71 696.71,913.96 707.05,916.25 717.4,908.96 727.74,885.42 738.08,879.38 748.43,874.38 758.77,868.33 769.12,845.83 779.46,837.92 789.81,872.92 800.15,913.54 810.5,923.33 820.84,910 831.19,923.96 841.53,920.83 851.88,925.83 862.22,928.75 872.57,925.83 882.91,927.92 893.26,930.42 903.6,904.17 913.95,914.58 924.29,920 934.64,909.58 944.98,906.46 955.33,912.08 965.67,881.88 976.02,889.58 986.36,920.83 996.7,934.38 1007.05,935 1017.39,936.04 1027.74,933.33 1038.08,925 1048.43,913.75 1058.77,909.58 1069.12,915.21 1079.46,927.08 1089.81,929.58 1100.15,918.75 1110.5,882.29 1120.84,919.58 1131.19,912.08 1141.53,902.5 1151.88,895.42 1162.22,904.17 1172.57,891.67 1182.91,863.12 1193.26,897.29 1203.6,905.21 1213.95,888.96 1224.29,917.71 1234.63,907.08 1244.98,891.67 1255.32,888.96 1265.67,873.75 1276.01,915.83 1286.36,889.58 1296.7,875.42 1307.05,856.88 1317.39,894.79 1327.74,913.33 1338.08,900.42 1348.43,906.88 1358.77,870.83 1369.12,867.5 1379.46,895.83 1389.81,902.29 1400.15,894.38 1410.5,889.17 1420.84,901.25 1431.19,911.88 1441.53,896.46 1451.88,907.5 1462.22,884.58 1472.56,897.08 1482.91,881.25 1493.25,892.08 1503.6,877.08 1513.94,843.96 1524.29,885.21 1534.63,890 1544.98,899.17 1555.32,881.25 1565.67,864.58 1576.01,908.33 1586.36,907.71 1596.7,893.33 1607.05,897.92 1617.39,874.17 1627.74,893.75 1638.08,901.04 1648.43,906.88 1658.77,891.67 1669.12,863.12 1679.46,897.92 1689.81,909.38 1700.15,897.92" fill="none" stroke="#7e57c2" stroke-width="1.3" stroke-linejoin="round" clip-path="url(#cp)"/>
<path d="M13.5 902.8H1826.0" stroke="#787b86" stroke-opacity="0.5" stroke-width="1" stroke-dasharray="6 6"/>
<path d="M13.5 827.3H1826.0M13.5 978.6H1826.0" stroke="#75777f" stroke-width="1.2" stroke-dasharray="6 6"/>
<text x="19" y="122" font-size="26.8" fill="#2962ff" textLength="44.4" lengthAdjust="spacingAndGlyphs" font-weight="bold" >CPI</text>
<text x="19.4" y="148" font-size="26.8" fill="#2962ff" textLength="86.9" lengthAdjust="spacingAndGlyphs" font-weight="bold" >Report</text>
<text x="236.3" y="142" font-size="26.8" fill="#2962ff" textLength="44.4" lengthAdjust="spacingAndGlyphs" font-weight="bold" >CPI</text>
<text x="236.7" y="169" font-size="26.8" fill="#2962ff" textLength="86.9" lengthAdjust="spacingAndGlyphs" font-weight="bold" >Report</text>
<text x="515.5" y="131" font-size="26.8" fill="#2962ff" textLength="44.4" lengthAdjust="spacingAndGlyphs" font-weight="bold" >CPI</text>
<text x="515.9" y="158" font-size="26.8" fill="#2962ff" textLength="86.9" lengthAdjust="spacingAndGlyphs" font-weight="bold" >Report</text>
<text x="960" y="124" font-size="26.8" fill="#2962ff" textLength="44.4" lengthAdjust="spacingAndGlyphs" font-weight="bold" >CPI</text>
<text x="960.4" y="151" font-size="26.8" fill="#2962ff" textLength="86.9" lengthAdjust="spacingAndGlyphs" font-weight="bold" >Report</text>
<text x="1125.67" y="189" font-size="26.8" fill="#2962ff" textLength="44.4" lengthAdjust="spacingAndGlyphs" font-weight="bold" >CPI</text>
<text x="1126.07" y="216" font-size="26.8" fill="#2962ff" textLength="86.9" lengthAdjust="spacingAndGlyphs" font-weight="bold" >Report</text>
<text x="1374.03" y="209" font-size="26.8" fill="#2962ff" textLength="44.4" lengthAdjust="spacingAndGlyphs" font-weight="bold" >CPI</text>
<text x="1374.43" y="236" font-size="26.8" fill="#2962ff" textLength="86.9" lengthAdjust="spacingAndGlyphs" font-weight="bold" >Report</text>
<text x="1570.15" y="110" font-size="26.8" fill="#2962ff" textLength="44.4" lengthAdjust="spacingAndGlyphs" font-weight="bold" >CPI</text>
<text x="1570.55" y="136" font-size="26.8" fill="#2962ff" textLength="86.9" lengthAdjust="spacingAndGlyphs" font-weight="bold" >Report</text>
<text x="23.9" y="62.9" font-size="16" fill="#15161b" textLength="40.4" lengthAdjust="spacingAndGlyphs" >Cboe</text>
<text x="68.7" y="62.9" font-size="16" fill="#15161b" textLength="43.6" lengthAdjust="spacingAndGlyphs" >1-Day</text>
<text x="117.6" y="62.9" font-size="16" fill="#15161b" textLength="63.9" lengthAdjust="spacingAndGlyphs" >Volatility</text>
<text x="187.4" y="62.9" font-size="16" fill="#15161b" textLength="41" lengthAdjust="spacingAndGlyphs" >Index</text>
<text x="241.6" y="62.9" font-size="16" fill="#15161b" textLength="19.5" lengthAdjust="spacingAndGlyphs" >1D</text>
<text x="275.3" y="62.9" font-size="16" fill="#15161b" textLength="44.15" lengthAdjust="spacingAndGlyphs" >CBOE</text>
<text x="235.45" y="62.9" font-size="16" fill="#15161b" font-weight="bold" text-anchor="middle" >·</text>
<text x="268.75" y="62.9" font-size="16" fill="#15161b" font-weight="bold" text-anchor="middle" >·</text>
<text x="329" y="62.9" font-size="16" fill="#15161b" textLength="12.2" lengthAdjust="spacingAndGlyphs" >O</text>
<text x="341.7" y="62.9" font-size="16" fill="#089981" textLength="40.6" lengthAdjust="spacingAndGlyphs" >14.26</text>
<text x="393" y="62.9" font-size="16" fill="#15161b" textLength="11.5" lengthAdjust="spacingAndGlyphs" >H</text>
<text x="405" y="62.9" font-size="16" fill="#089981" textLength="42" lengthAdjust="spacingAndGlyphs" >23.85</text>
<text x="457.5" y="62.9" font-size="16" fill="#15161b" textLength="8.5" lengthAdjust="spacingAndGlyphs" >L</text>
<text x="467.5" y="62.9" font-size="16" fill="#089981" textLength="39.2" lengthAdjust="spacingAndGlyphs" >14.20</text>
<text x="517.5" y="62.9" font-size="16" fill="#15161b" textLength="11.2" lengthAdjust="spacingAndGlyphs" >C</text>
<text x="529.4" y="62.9" font-size="16" fill="#089981" textLength="41.6" lengthAdjust="spacingAndGlyphs" >23.02</text>
<text x="581.7" y="62.9" font-size="16" fill="#089981" textLength="127" lengthAdjust="spacingAndGlyphs" >+3.99 (+20.97%)</text>
<rect x="1831" y="41.5" width="70" height="35" rx="5" fill="#fff" stroke="#eeeeee" stroke-width="1"/>
<text x="1843.75" y="63.9" font-size="16.5" fill="#15161b" textLength="37.8" lengthAdjust="spacingAndGlyphs" >point</text>
<text x="1838.6" y="100.9" font-size="16.5" fill="#15161b" textLength="43.8" lengthAdjust="spacingAndGlyphs" >36.50</text>
<text x="1838.6" y="162.9" font-size="16.5" fill="#15161b" textLength="43.8" lengthAdjust="spacingAndGlyphs" >30.50</text>
<text x="1838.6" y="210.9" font-size="16.5" fill="#15161b" textLength="43.8" lengthAdjust="spacingAndGlyphs" >26.50</text>
<text x="1838.6" y="316.9" font-size="16.5" fill="#15161b" textLength="43.8" lengthAdjust="spacingAndGlyphs" >19.50</text>
<text x="1838.6" y="374.4" font-size="16.5" fill="#15161b" textLength="43.8" lengthAdjust="spacingAndGlyphs" >16.50</text>
<text x="1838.6" y="418.9" font-size="16.5" fill="#15161b" textLength="43.8" lengthAdjust="spacingAndGlyphs" >14.50</text>
<text x="1838.6" y="470.4" font-size="16.5" fill="#15161b" textLength="43.8" lengthAdjust="spacingAndGlyphs" >12.50</text>
<text x="1839.5" y="513.9" font-size="16.5" fill="#15161b" textLength="42.5" lengthAdjust="spacingAndGlyphs" >11.00</text>
<text x="1838.6" y="564.9" font-size="16.5" fill="#15161b" textLength="35.2" lengthAdjust="spacingAndGlyphs" >9.50</text>
<text x="1838.6" y="623.9" font-size="16.5" fill="#15161b" textLength="35.2" lengthAdjust="spacingAndGlyphs" >8.00</text>
<text x="1838.6" y="670.4" font-size="16.5" fill="#15161b" textLength="35.2" lengthAdjust="spacingAndGlyphs" >7.00</text>
<text x="1838.6" y="711.9" font-size="16.5" fill="#15161b" textLength="35.2" lengthAdjust="spacingAndGlyphs" >6.20</text>
<text x="1838.6" y="753.4" font-size="16.5" fill="#15161b" textLength="35.2" lengthAdjust="spacingAndGlyphs" >5.50</text>
<text x="1838.6" y="796.4" font-size="16.5" fill="#15161b" textLength="35.2" lengthAdjust="spacingAndGlyphs" >4.85</text>
<text x="1838.6" y="870.9" font-size="16.5" fill="#15161b" textLength="43.8" lengthAdjust="spacingAndGlyphs" >60.00</text>
<text x="1838.6" y="946.9" font-size="16.5" fill="#15161b" textLength="43.8" lengthAdjust="spacingAndGlyphs" >40.00</text>
<rect x="1827" y="242.2" width="63.5" height="41.6" rx="2" fill="#089981"/>
<text x="1838.7" y="258.5" font-size="16.5" fill="#fff" textLength="43.8" lengthAdjust="spacingAndGlyphs" >23.02</text>
<text x="1838.7" y="277.9" font-size="16.5" fill="#fff" textLength="43.8" lengthAdjust="spacingAndGlyphs" fill-opacity="0.75">08:56</text>
<rect x="1827" y="425" width="63.5" height="22.5" rx="2" fill="#ff9800"/>
<text x="1839.2" y="441.8" font-size="16.5" fill="#131722" textLength="42.8" lengthAdjust="spacingAndGlyphs" >13.57</text>
<rect x="1827" y="865" width="63.5" height="22" rx="2" fill="#fdd835"/>
<text x="1838.8" y="881.6" font-size="16.5" fill="#131722" textLength="43.7" lengthAdjust="spacingAndGlyphs" >52.47</text>
<rect x="1827" y="887.7" width="63.5" height="22.1" rx="2" fill="#7e57c2"/>
<text x="1838.8" y="904.4" font-size="16.5" fill="#fff" textLength="43.7" lengthAdjust="spacingAndGlyphs" >51.16</text>
<text x="23.9" y="835.8" font-size="16" fill="#15161b" textLength="24.8" lengthAdjust="spacingAndGlyphs" >RSI</text>
<text x="55.2" y="835.8" font-size="16" fill="#15161b" textLength="25.75" lengthAdjust="spacingAndGlyphs" >(14,</text>
<text x="86.4" y="835.8" font-size="16" fill="#15161b" textLength="45.8" lengthAdjust="spacingAndGlyphs" >close)</text>
<text x="142.9" y="835.8" font-size="16" fill="#7e57c2" textLength="37.5" lengthAdjust="spacingAndGlyphs" >51.16</text>
<text x="191.25" y="835.8" font-size="16" fill="#fdd835" textLength="41.8" lengthAdjust="spacingAndGlyphs" >52.47</text>
<text x="23.9" y="1023.3" font-size="16" fill="#15161b" textLength="21" lengthAdjust="spacingAndGlyphs" >Oil</text>
<text x="49.3" y="1023.3" font-size="16" fill="#15161b" textLength="37.9" lengthAdjust="spacingAndGlyphs" >Term</text>
<text x="91.6" y="1023.3" font-size="16" fill="#15161b" textLength="72.2" lengthAdjust="spacingAndGlyphs" >Structure</text>
<text x="168.5" y="1023.3" font-size="16" fill="#15161b" textLength="9.7" lengthAdjust="spacingAndGlyphs" >+</text>
<text x="182.2" y="1023.3" font-size="16" fill="#15161b" textLength="75.8" lengthAdjust="spacingAndGlyphs" >Scenarios</text>
<text x="262.4" y="1023.3" font-size="16" fill="#15161b" textLength="20" lengthAdjust="spacingAndGlyphs" >(9,</text>
<text x="286.8" y="1023.3" font-size="16" fill="#15161b" textLength="28.5" lengthAdjust="spacingAndGlyphs" >Top</text>
<text x="319.5" y="1023.3" font-size="16" fill="#15161b" textLength="44.7" lengthAdjust="spacingAndGlyphs" >Right,</text>
<text x="368.5" y="1023.3" font-size="16" fill="#15161b" textLength="22.9" lengthAdjust="spacingAndGlyphs" >72,</text>
<text x="396.8" y="1023.3" font-size="16" fill="#15161b" textLength="14.1" lengthAdjust="spacingAndGlyphs" >8,</text>
<text x="415.8" y="1023.3" font-size="16" fill="#15161b" textLength="14.3" lengthAdjust="spacingAndGlyphs" >3,</text>
<text x="434.5" y="1023.3" font-size="16" fill="#15161b" textLength="22.2" lengthAdjust="spacingAndGlyphs" >10,</text>
<text x="461.2" y="1023.3" font-size="16" fill="#15161b" textLength="23.7" lengthAdjust="spacingAndGlyphs" >40,</text>
<text x="490.8" y="1023.3" font-size="16" fill="#15161b" textLength="23.2" lengthAdjust="spacingAndGlyphs" >50,</text>
<text x="518.9" y="1023.3" font-size="16" fill="#15161b" textLength="42.6" lengthAdjust="spacingAndGlyphs" >101.5,</text>
<text x="566.4" y="1023.3" font-size="16" fill="#15161b" textLength="31" lengthAdjust="spacingAndGlyphs" >103,</text>
<text x="602.6" y="1023.3" font-size="16" fill="#15161b" textLength="20.2" lengthAdjust="spacingAndGlyphs" >17,</text>
<text x="627.8" y="1023.3" font-size="16" fill="#15161b" textLength="13.3" lengthAdjust="spacingAndGlyphs" >5,</text>
<text x="646.6" y="1023.3" font-size="16" fill="#15161b" textLength="27.85" lengthAdjust="spacingAndGlyphs" >2.5,</text>
<text x="679.3" y="1023.3" font-size="16" fill="#15161b" textLength="29.5" lengthAdjust="spacingAndGlyphs" >0.2)</text>
<text x="772" y="1023.3" font-size="16" fill="#dcdcdc" textLength="42.6" lengthAdjust="spacingAndGlyphs" >84.07</text>
<text x="824.2" y="1023.3" font-size="16" fill="#bdbdbd" textLength="43.1" lengthAdjust="spacingAndGlyphs" >79.46</text>
<text x="876.7" y="1023.3" font-size="16" fill="#a3a3a3" textLength="42.7" lengthAdjust="spacingAndGlyphs" >76.20</text>
<text x="928.75" y="1023.3" font-size="16" fill="#8c8c8c" textLength="43.15" lengthAdjust="spacingAndGlyphs" >73.89</text>
<text x="981.5" y="1023.3" font-size="16" fill="#787878" textLength="42.9" lengthAdjust="spacingAndGlyphs" >72.40</text>
<text x="1034" y="1023.3" font-size="16" fill="#666" textLength="40.2" lengthAdjust="spacingAndGlyphs" >71.43</text>
<text x="1084.4" y="1023.3" font-size="16" fill="#555" textLength="42.3" lengthAdjust="spacingAndGlyphs" >70.69</text>
<text x="1137" y="1023.3" font-size="16" fill="#444" textLength="36.75" lengthAdjust="spacingAndGlyphs" >70.11</text>
<text x="1183.5" y="1023.3" font-size="13.5" fill="#222" textLength="10.5" lengthAdjust="spacingAndGlyphs" font-family="DejaVu Sans, sans-serif" stroke="#222" stroke-width="0.35">∅</text>
<text x="1204.4" y="1023.3" font-size="13.5" fill="#222" textLength="10.4" lengthAdjust="spacingAndGlyphs" font-family="DejaVu Sans, sans-serif" stroke="#222" stroke-width="0.35">∅</text>
<text x="1225.2" y="1023.3" font-size="13.5" fill="#222" textLength="10.4" lengthAdjust="spacingAndGlyphs" font-family="DejaVu Sans, sans-serif" stroke="#222" stroke-width="0.35">∅</text>
<text x="1245" y="1023.3" font-size="16" fill="#fdd835" textLength="42.7" lengthAdjust="spacingAndGlyphs" >72.00</text>
<text x="1297.7" y="1023.3" font-size="16" fill="#4caf50" textLength="42.5" lengthAdjust="spacingAndGlyphs" >73.86</text>
<text x="1350.2" y="1023.3" font-size="16" fill="#2962ff" textLength="42.3" lengthAdjust="spacingAndGlyphs" >79.45</text>
<text x="1403" y="1023.3" font-size="16" fill="#f23645" textLength="40.3" lengthAdjust="spacingAndGlyphs" >95.15</text>
<text x="1453.75" y="1023.3" font-size="16" fill="#ff9800" textLength="41.25" lengthAdjust="spacingAndGlyphs" >86.74</text>
<text x="189.7" y="1066" font-size="16" fill="#15161b" text-anchor="middle" >Sep</text>
<text x="406.8" y="1066" font-size="16" fill="#15161b" text-anchor="middle" >Oct</text>
<text x="644.8" y="1066" font-size="16" fill="#15161b" text-anchor="middle" >Nov</text>
<text x="841.4" y="1066" font-size="16" fill="#15161b" text-anchor="middle" >Dec</text>
<text x="1276" y="1066" font-size="16" fill="#15161b" text-anchor="middle" >Feb</text>
<text x="1472.6" y="1066" font-size="16" fill="#15161b" text-anchor="middle" >Mar</text>
<text x="1700.3" y="1066" font-size="16" fill="#15161b" text-anchor="middle" >Apr</text>
<text x="1048.5" y="1066" font-size="16" fill="#15161b" textLength="41.7" lengthAdjust="spacingAndGlyphs" font-weight="bold" >2026</text>
<g transform="translate(16,1103.45) scale(1.111)" fill="#141414"><path d="M14.6 22H7.2V11H0V4h14.6v18z"/><circle cx="20.7" cy="7.65" r="3.65"/><path d="M20.7 22L27.2 4H36L29.5 22z"/></g>
<text x="66.1" y="1128" font-size="28" fill="#141414" textLength="162.2" lengthAdjust="spacingAndGlyphs" font-weight="bold" stroke="#141414" stroke-width="0.55">TradingView</text>
</svg>
</body></html>
